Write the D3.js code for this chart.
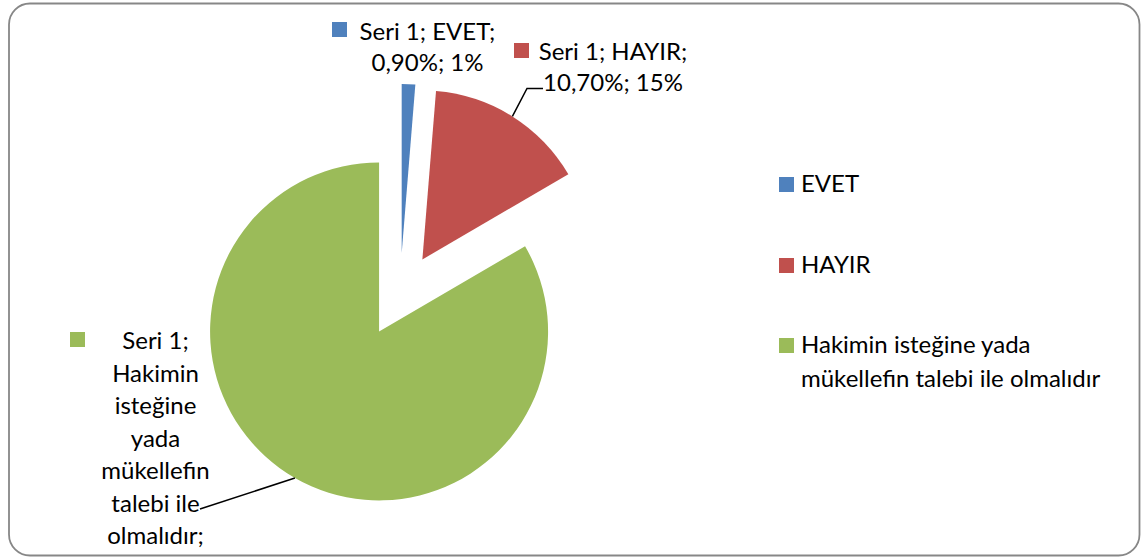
<!DOCTYPE html>
<html>
<head>
<meta charset="utf-8">
<script src="https://cdn.jsdelivr.net/npm/d3@7"></script>
<style>
    body { margin: 0; background: #ffffff; }
    svg { display: block; }
</style>
</head>
<body>
<svg id="chart" width="1141" height="557"></svg>
<script>
const seriesName = "Seri 1";
const categories = ["EVET", "HAYIR", "Hakimin isteğine yada mükellefin talebi ile olmalıdır"];
const values = [0.90, 10.70, 58.30];
const colors = ["#4F81BD", "#C0504D", "#9BBB59"];

const chartWidth = 1141;
const chartHeight = 557;
const fontFamily = "Lato, 'Open Sans', sans-serif";
const fontSize = 24;

const pieCenterX = 400;
const pieCenterY = 295;
const pieRadius = 169;
const pieExplode = 42;

const keySize = 15;

// where excel put each data label, and how wide it lets the text run
const labelLayout = [
    {keyX: 332, keyY: 22, textX: 427.5, baseY: 40, lineHeight: 31, wrap: 155, leader: null},
    {keyX: 514, keyY: 43, textX: 613, baseY: 60, lineHeight: 31, wrap: 165, leader: [[543, 88.5], [527, 88.5]]},
    {keyX: 70, keyY: 332, textX: 155.5, baseY: 349, lineHeight: 32.5, wrap: 125, leader: [[200, 509]]}
];

const legendX = 779;
const legendTextX = 801;
const legendBaseY = [192, 273, 353];
const legendLineHeight = 33.5;
const legendWrap = 320;

const svg = d3.select("#chart");

svg.append("rect")
    .attr("x", 9)
    .attr("y", 3.5)
    .attr("width", 1130.5)
    .attr("height", 552)
    .attr("rx", 21)
    .attr("ry", 21)
    .attr("fill", "#ffffff")
    .attr("stroke", "#878787")
    .attr("stroke-width", 1.8);

const measure = svg.append("text")
    .attr("font-family", fontFamily)
    .attr("font-size", fontSize)
    .attr("visibility", "hidden");

const textWidth = (str) =>
{
    measure.text(str);
    return measure.node().getComputedTextLength();
}

const wrapWords = (str, maxWidth) =>
{
    const words = str.split(" ");
    const lines = [];
    let line = "";
    for (const word of words)
    {
        const test = line ? line + " " + word : word;
        if (line && textWidth(test) > maxWidth)
        {
            lines.push(line);
            line = word;
        }
        else
        {
            line = test;
        }
    }
    if (line) lines.push(line);
    return lines;
}

const total = d3.sum(values);
const fmtValue = (v) => d3.format(".2f")(v).replace(".", ",") + "%";
const fmtShare = (v) => Math.round(v / total * 100) + "%";

const pie = d3.pie().sort(null).value(d => d);
const arc = d3.arc().innerRadius(0).outerRadius(pieRadius);
const arcs = pie(values);

const explodeOffset = (d) =>
{
    const mid = (d.startAngle + d.endAngle) / 2;
    return [Math.sin(mid) * pieExplode, -Math.cos(mid) * pieExplode];
}

const pieGroup = svg.append("g")
    .attr("transform", `translate(${pieCenterX},${pieCenterY})`);

pieGroup.selectAll("path.slice")
    .data(arcs)
    .join("path")
    .attr("class", "slice")
    .attr("d", arc)
    .attr("fill", (d, i) => colors[i])
    .attr("transform", d => `translate(${explodeOffset(d)})`);

// leader lines go to the middle of each slice's outer edge
arcs.forEach((d, i) =>
{
    const layout = labelLayout[i];
    if (!layout.leader) return;
    const mid = (d.startAngle + d.endAngle) / 2;
    const off = explodeOffset(d);
    const edge = [
        pieCenterX + off[0] + Math.sin(mid) * pieRadius,
        pieCenterY + off[1] - Math.cos(mid) * pieRadius
    ];
    svg.append("path")
        .attr("d", d3.line()(layout.leader.concat([edge])))
        .attr("fill", "none")
        .attr("stroke", "#000000")
        .attr("stroke-width", 1.5);
});

// data labels (the chart area cuts off whatever runs past the bottom)
arcs.forEach((d, i) =>
{
    const layout = labelLayout[i];
    const labelText = `${seriesName}; ${categories[i]}; ${fmtValue(values[i])}; ${fmtShare(values[i])}`;
    const lines = wrapWords(labelText, layout.wrap);

    svg.append("rect")
        .attr("x", layout.keyX)
        .attr("y", layout.keyY)
        .attr("width", keySize)
        .attr("height", keySize)
        .attr("fill", colors[i]);

    const text = svg.append("text")
        .attr("font-family", fontFamily)
        .attr("font-size", fontSize)
        .attr("fill", "#000000")
        .attr("text-anchor", "middle");

    lines.forEach((line, j) =>
    {
        const y = layout.baseY + j * layout.lineHeight;
        if (y + 6 > chartHeight) return;
        text.append("tspan")
            .attr("x", layout.textX)
            .attr("y", y)
            .text(line);
    });
});

// legend
categories.forEach((cat, i) =>
{
    svg.append("rect")
        .attr("x", legendX)
        .attr("y", legendBaseY[i] - keySize)
        .attr("width", keySize)
        .attr("height", keySize)
        .attr("fill", colors[i]);

    const text = svg.append("text")
        .attr("font-family", fontFamily)
        .attr("font-size", fontSize)
        .attr("fill", "#000000");

    wrapWords(cat, legendWrap).forEach((line, j) =>
    {
        text.append("tspan")
            .attr("x", legendTextX)
            .attr("y", legendBaseY[i] + j * legendLineHeight)
            .text(line);
    });
});

measure.remove();
</script>
</body>
</html>
